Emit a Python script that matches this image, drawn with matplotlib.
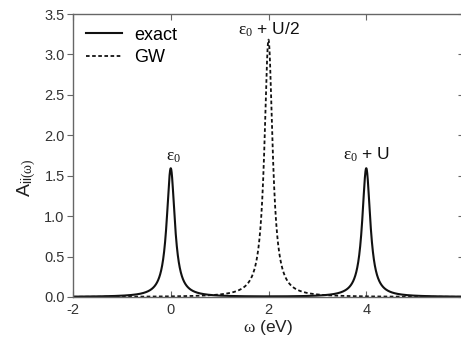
import numpy as np
import matplotlib
matplotlib.use("Agg")
import matplotlib.pyplot as plt

plt.rcParams['font.family'] = ['Liberation Sans', 'DejaVu Sans']
plt.rcParams['mathtext.fontset'] = 'custom'
plt.rcParams['mathtext.rm'] = 'Liberation Serif'
plt.rcParams['mathtext.it'] = 'Liberation Serif:italic'
plt.rcParams['mathtext.sf'] = 'Liberation Sans'

# Spectral peaks (eV): positions, spectral weights and Lorentzian broadening
exact_centers = [0.0, 4.0]
exact_weights = [0.5, 0.5]
gw_centers = [2.0]
gw_weights = [1.0]
broadening = 0.1

peak_labels = [r'$\mathrm{\varepsilon_0}$', r'$\mathrm{\varepsilon_0}$ + U/2', r'$\mathrm{\varepsilon_0}$ + U']
peak_label_x = [0.05, 2.0, 4.0]
peak_label_y = [1.72, 3.30, 1.76]

x_ticks = [-2, 0, 2, 4]
y_ticks = [0.0, 0.5, 1.0, 1.5, 2.0, 2.5, 3.0, 3.5]

omega = np.linspace(-2, 6, 4001)


def spectral(centers, weights):
    a = np.zeros_like(omega)
    for c, w in zip(centers, weights):
        a += w / np.pi * broadening / ((omega - c) ** 2 + broadening ** 2)
    return a


fig = plt.figure(figsize=(4.61, 3.38), dpi=100)
ax = fig.add_axes([73 / 461, 41 / 338, 391 / 461, 283 / 338])

ax.plot(omega, spectral(exact_centers, exact_weights), color='#111111', lw=1.5,
        label='exact')
ax.plot(omega, spectral(gw_centers, gw_weights), color='#111111', lw=1.3,
        ls=(0, (2.0, 1.4)), label='GW')

ax.set_xlim(-2, 6)
ax.set_ylim(0, 3.5)
ax.set_xticks(x_ticks)
ax.set_xticklabels([str(t) for t in x_ticks])
ax.set_yticks(y_ticks)
ax.set_yticklabels([f'{t:.1f}' for t in y_ticks])

spine_col = '#666666'
for s in ax.spines.values():
    s.set_color(spine_col)
    s.set_linewidth(1.0)

ax.tick_params(axis='x', which='both', direction='in', length=4, color=spine_col,
               labelsize=10.5, labelcolor='#333333', top=True, pad=4)
ax.tick_params(axis='y', which='both', direction='out', length=4, color=spine_col,
               labelsize=10.5, labelcolor='#333333', pad=2)
ax.tick_params(axis='y', which='both', right=True)
# right-hand ticks point inward
for t in ax.yaxis.get_major_ticks():
    t.tick2line.set_marker(matplotlib.lines.TICKLEFT)

ax.set_xlabel(r'$\mathrm{\omega}$ (eV)', fontsize=12.5, color='#222222')
ax.xaxis.set_label_coords(0.5, -0.074)
ax.set_ylabel(r'$\mathsf{A}_{\mathsf{ii}\mathrm{(\omega)}}$', fontsize=14,
              color='#222222')
ax.yaxis.set_label_coords(-0.09, 0.42)

for lab, lx, ly in zip(peak_labels, peak_label_x, peak_label_y):
    ax.text(lx, ly, lab, fontsize=12.5, ha='center', va='center', color='#111111')

leg = ax.legend(loc='upper left', fontsize=13, frameon=False, handlelength=2.0,
                handletextpad=0.7, borderaxespad=0.3, labelspacing=0.3)

fig.savefig('out.png', dpi=100)
